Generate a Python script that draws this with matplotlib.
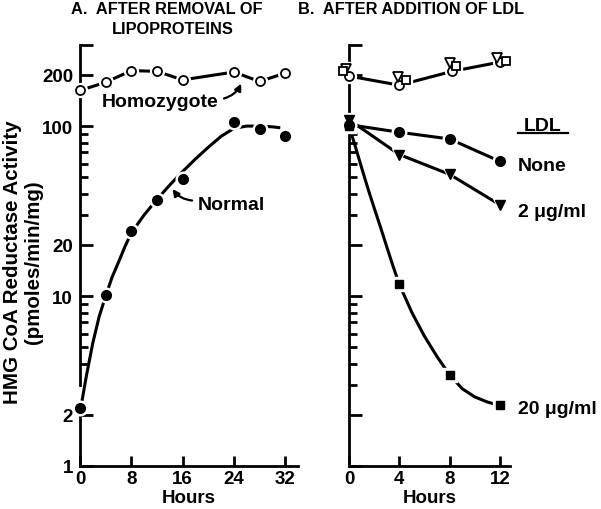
import matplotlib
matplotlib.use("Agg")
import matplotlib.pyplot as plt
from matplotlib.lines import Line2D

plt.rcParams['font.family'] = ['Liberation Sans', 'DejaVu Sans']
plt.rcParams['font.weight'] = 'bold'

# --- Panel A: after removal of lipoproteins ---
horas_a = [0, 4, 8, 12, 16, 24, 28, 32]
homocigoto = [162, 181, 212, 210, 187, 208, 183, 205]
normal = [2.2, 10.1, 24, 36.5, 49, 106, 96, 87]

# curva trazada a mano en la figura original
curva_horas_a = [0.3, 1, 2, 3, 4, 5, 6, 7, 8, 10, 12, 14, 16, 18, 20, 22, 24, 26, 28, 30, 31]
curva_normal = [2.4, 3.4, 5.3, 7.6, 10, 12.9, 15.8, 19.5, 23.5, 30, 37, 45, 54, 64, 75, 87,
                97, 100, 100, 99, 98]

# --- Panel B: after addition of LDL ---
horas_b = [0, 4, 8, 12]
ninguno = [102, 92, 84, 62]
ldl_2 = [109, 68, 52, 34.4]
ldl_20 = [100, 11.7, 3.44, 2.27]

curva_horas_b = [0, 0.5, 1, 1.5, 2, 2.5, 3, 3.5, 4, 5, 6, 7, 8, 9, 10, 11, 12]
curva_ldl_20 = [100, 76, 57, 43, 33, 25.5, 19.5, 15, 11.7, 8.0, 5.8, 4.4, 3.44, 2.85, 2.55,
                2.38, 2.27]

# homozygote cells in panel B (open symbols)
horas_b_circ = [0, 4, 8.2, 12]
homo_ninguno = [197, 174, 210, 238]
horas_b_tri = [-0.2, 3.9, 8.0, 11.8]
homo_ldl_2 = [216, 194, 235, 251]
horas_b_cuad = [-0.5, 4.5, 8.5, 12.5]
homo_ldl_20 = [210, 187, 225, 241]

ticks_y = [1, 2, 10, 20, 100, 200, 300]
etiquetas_y = ['1', '2', '10', '20', '100', '200', '']

LW = 2.2
FS = 14


def serie(ax, x, y, marker, ms, filled=True, line=True):
    # halo blanco para que la línea se corte antes del símbolo
    if line:
        ax.plot(x, y, '-', color='black', lw=LW, zorder=2, clip_on=False)
    ax.plot(x, y, linestyle='none', marker=marker, ms=ms + 3.5, color='white',
            mec='white', zorder=3, clip_on=False)
    if filled:
        ax.plot(x, y, linestyle='none', marker=marker, ms=ms, color='black',
                mec='black', zorder=4, clip_on=False)
    else:
        ax.plot(x, y, linestyle='none', marker=marker, ms=ms, mfc='white',
                mec='black', mew=1.3, zorder=4, clip_on=False)


def estilo_ejes(ax):
    ax.set_yscale('log')
    ax.set_ylim(1, 300)
    for s in ['top', 'right']:
        ax.spines[s].set_visible(False)
    ax.spines['bottom'].set_linewidth(2)
    ax.spines['left'].set_linewidth(2)
    ax.tick_params(which='both', direction='in', width=2, labelsize=13.5)
    ax.tick_params(which='major', length=9)
    ax.tick_params(which='minor', length=6)
    ax.tick_params(axis='x', length=7, pad=3)
    ax.tick_params(axis='y', pad=5)
    ax.set_xlabel('Hours', fontsize=13.5, fontweight='bold', labelpad=1)


fig = plt.figure(figsize=(6.01, 5.10), dpi=100)
ax1 = fig.add_axes([80 / 601, 1 - 467 / 510, 218 / 601, 421 / 510])
ax2 = fig.add_axes([349 / 601, 1 - 467 / 510, 161 / 601, 421 / 510])

# ---- panel A ----
estilo_ejes(ax1)
ax1.set_xlim(0, 34)
ax1.set_xticks([0, 8, 16, 24, 32])
ax1.set_yticks(ticks_y)
ax1.set_yticklabels(etiquetas_y)
ax1.set_yticks([4, 5, 6, 7, 8, 9, 30, 40, 50, 60, 70, 80, 90], minor=True)
ax1.yaxis.set_minor_formatter(plt.NullFormatter())
# eje y con corte entre 2 y 3
ax1.spines['left'].set_visible(False)
yt = ax1.get_yaxis_transform()
ax1.plot([0, 0], [3, 300], color='black', lw=2, transform=yt, clip_on=False, zorder=1)
ax1.plot([0, 0], [1, 2], color='black', lw=2, transform=yt, clip_on=False, zorder=1)

ax1.plot(curva_horas_a, curva_normal, '-', color='black', lw=LW, zorder=2)
serie(ax1, horas_a, normal, 'o', 7, filled=True, line=False)
serie(ax1, horas_a, homocigoto, 'o', 6.5, filled=False, line=True)

ax1.annotate('Homozygote', xy=(25.3, 184), xytext=(12.5, 140), fontsize=FS,
             fontweight='bold', ha='center', va='center',
             arrowprops=dict(arrowstyle='-|>', color='black', lw=1.6,
                             connectionstyle='arc3,rad=0.3', shrinkA=2, shrinkB=2,
                             mutation_scale=10, relpos=(1.0, 0.6)))
ax1.annotate('Normal', xy=(14.2, 44), xytext=(23.6, 34.8), fontsize=FS,
             fontweight='bold', ha='center', va='center',
             arrowprops=dict(arrowstyle='-|>', color='black', lw=1.6,
                             connectionstyle='arc3,rad=-0.3', shrinkA=2, shrinkB=2,
                             mutation_scale=10, relpos=(0.0, 0.7)))

# ---- panel B ----
estilo_ejes(ax2)
ax2.set_xlim(0, 12.8)
ax2.set_xticks([0, 4, 8, 12])
ax2.set_yticks(ticks_y)
ax2.set_yticklabels([])
ax2.set_yticks([3, 4, 5, 6, 7, 8, 9, 30, 40, 50, 60, 70, 80, 90], minor=True)
ax2.yaxis.set_minor_formatter(plt.NullFormatter())

ax2.plot(horas_b_circ, homo_ninguno, '-', color='black', lw=LW, zorder=2)
serie(ax2, horas_b_circ, homo_ninguno, 'o', 6.5, filled=False, line=False)
serie(ax2, horas_b_tri, homo_ldl_2, 'v', 6.5, filled=False, line=False)
serie(ax2, horas_b_cuad, homo_ldl_20, 's', 5.5, filled=False, line=False)

ax2.plot(curva_horas_b, curva_ldl_20, '-', color='black', lw=LW, zorder=2)
serie(ax2, horas_b, ninguno, 'o', 7, filled=True, line=True)
serie(ax2, horas_b, ldl_2, 'v', 7, filled=True, line=True)
serie(ax2, horas_b, ldl_20, 's', 6, filled=True, line=False)

ax2.text(15.4, 101, 'LDL', fontsize=FS, fontweight='bold', ha='center', va='center')
fig.add_artist(Line2D([518 / 601, 568 / 601], [1 - 134 / 510, 1 - 134 / 510],
                      color='black', lw=1.6))
ax2.text(13.4, 59, 'None', fontsize=FS, fontweight='bold', ha='left', va='center')
ax2.text(13.4, 31.5, '2 μg/ml', fontsize=FS, fontweight='bold', ha='left', va='center')
ax2.text(13.4, 2.19, '20 μg/ml', fontsize=FS, fontweight='bold', ha='left', va='center')

# títulos y etiqueta del eje y
fig.text(167 / 601, 1 - 10 / 510, 'A.  AFTER REMOVAL OF', fontsize=11.8,
         fontweight='bold', ha='center', va='center')
fig.text(173 / 601, 1 - 29 / 510, 'LIPOPROTEINS', fontsize=11.8,
         fontweight='bold', ha='center', va='center')
fig.text(411 / 601, 1 - 10 / 510, 'B.  AFTER ADDITION OF LDL', fontsize=11.8,
         fontweight='bold', ha='center', va='center')
fig.text(23 / 601, 1 - 262 / 510, 'HMG CoA Reductase Activity\n(pmoles/min/mg)',
         fontsize=14.8, fontweight='bold', ha='center', va='center', rotation=90,
         linespacing=1.1)

fig.savefig('out.png', dpi=100)
